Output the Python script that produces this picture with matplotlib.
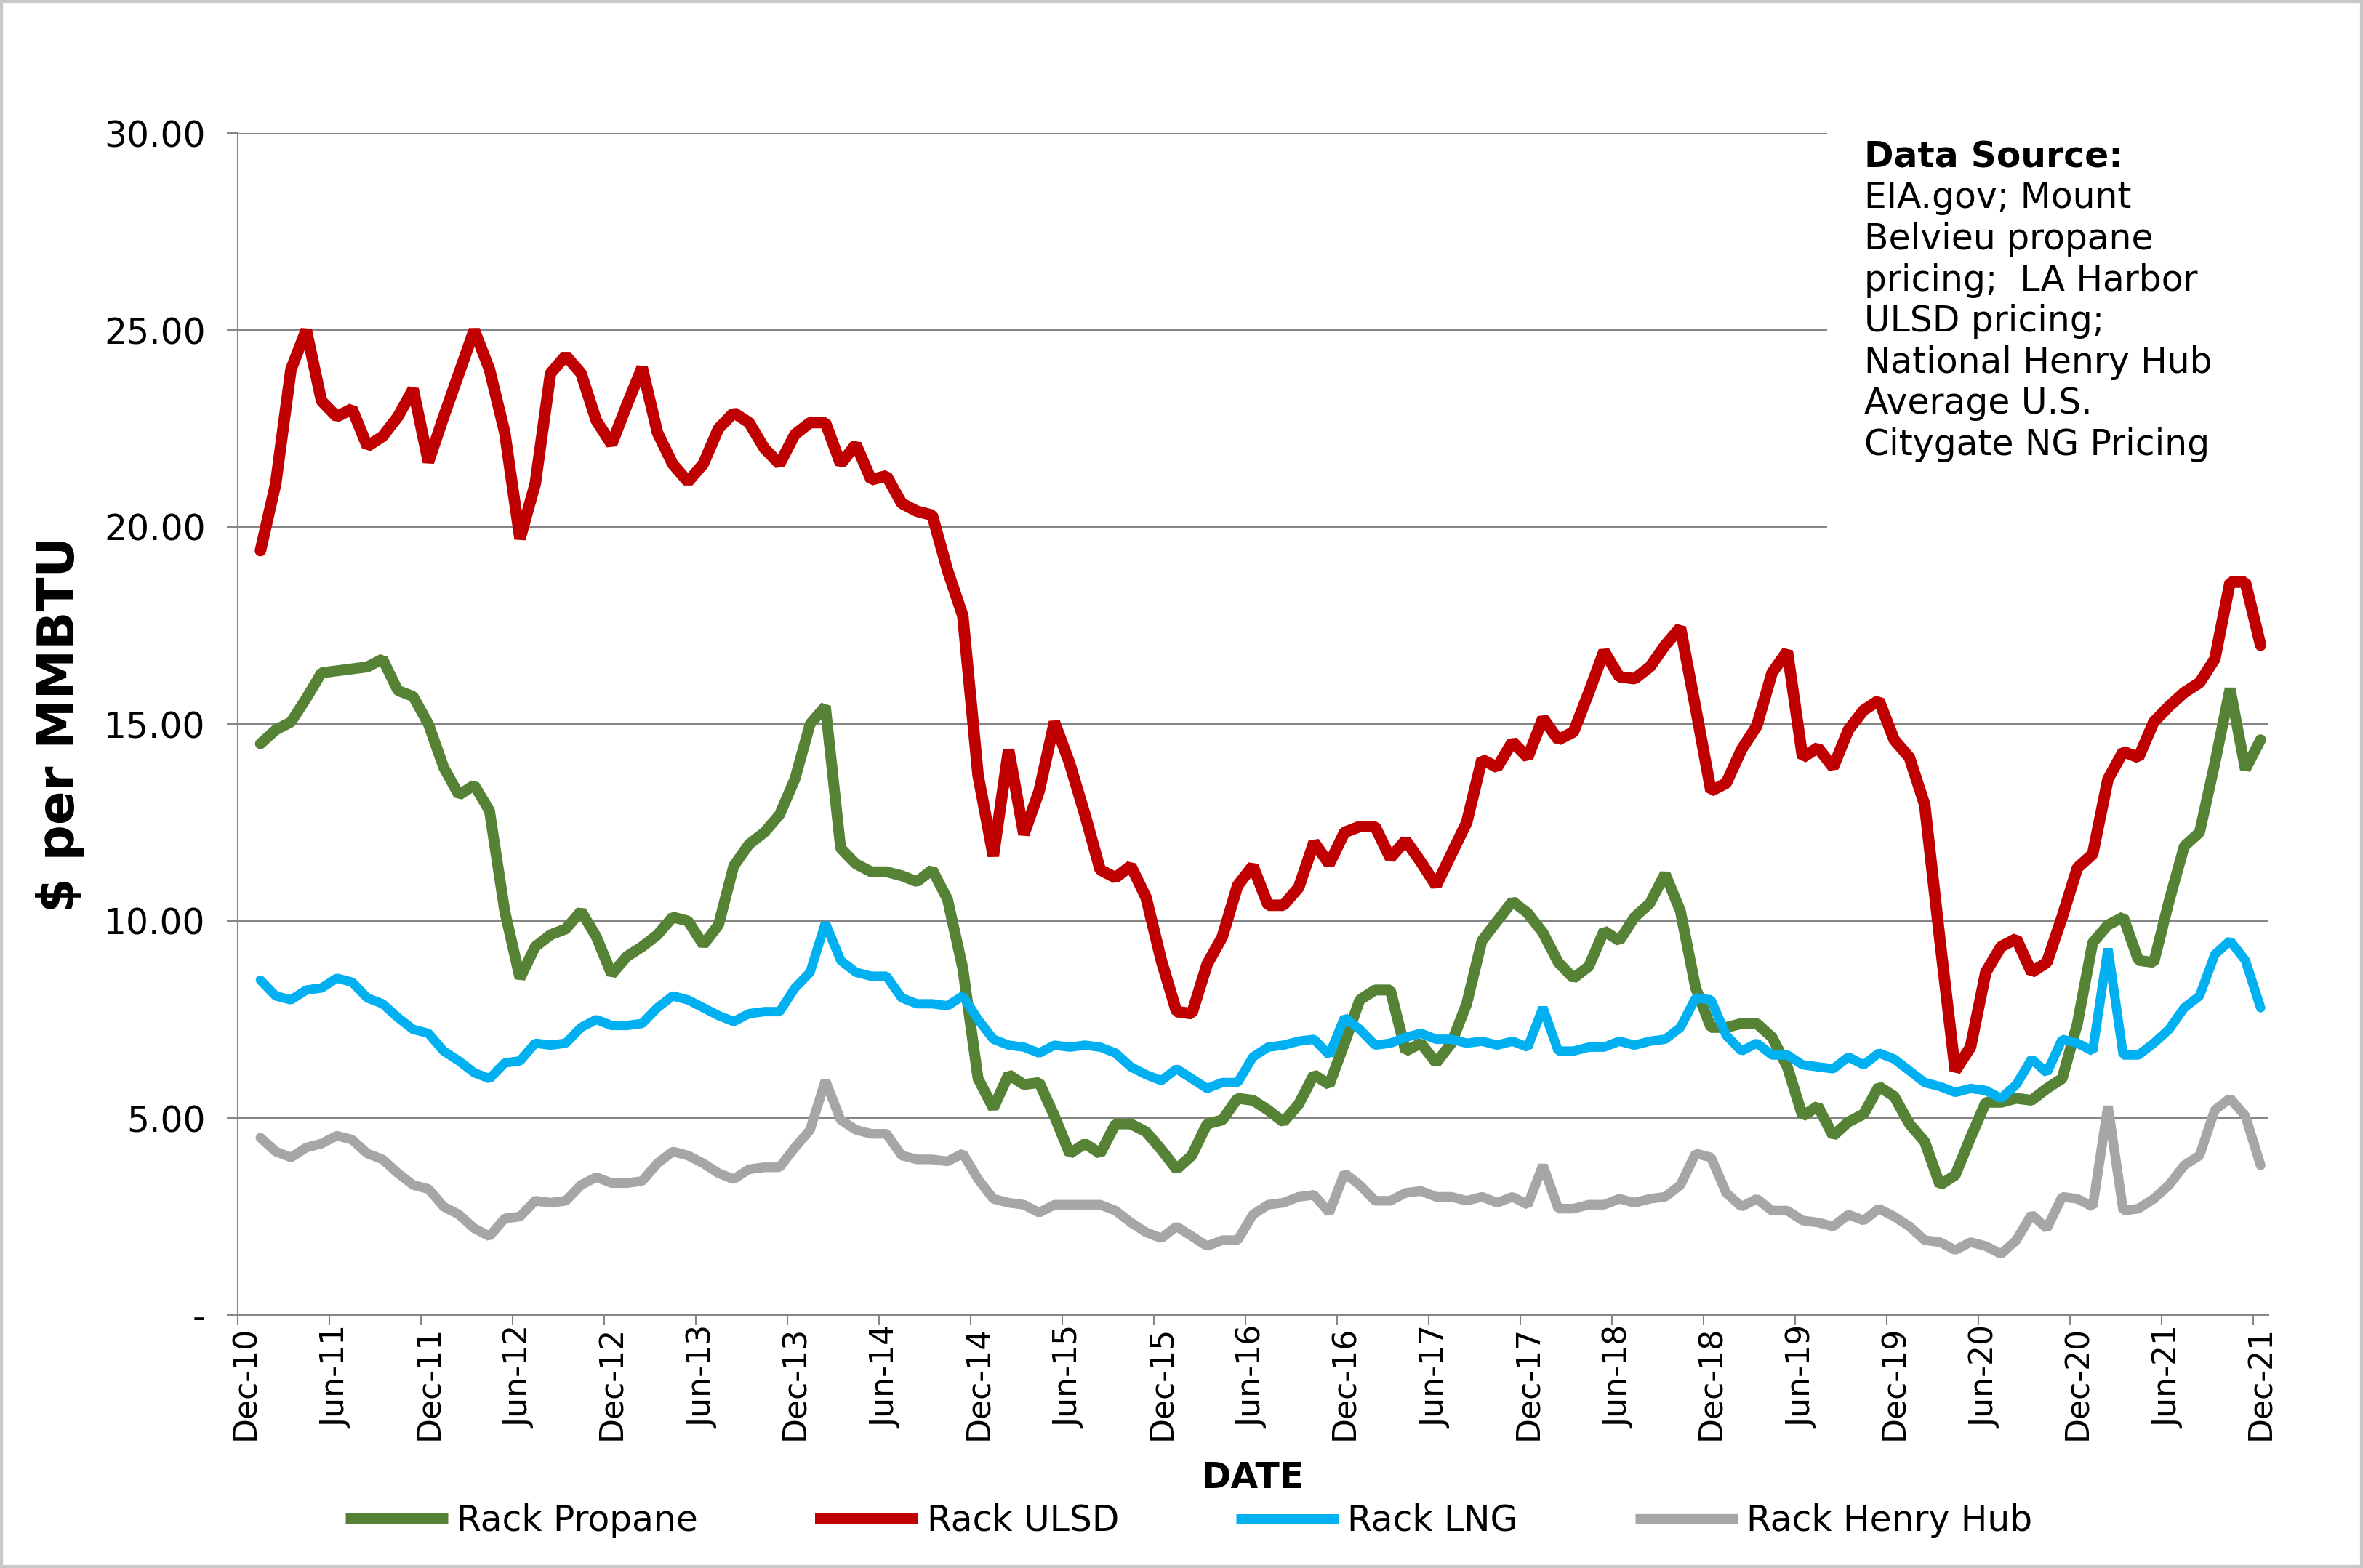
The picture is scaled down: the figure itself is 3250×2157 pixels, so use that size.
import numpy as np
import matplotlib
matplotlib.use("Agg")
import matplotlib.pyplot as plt
from matplotlib.patches import Rectangle
from matplotlib.lines import Line2D
from matplotlib.ticker import FixedLocator, FixedFormatter

# ---------------- data (monthly, Jan-11 .. Dec-21) ----------------
tick_labels = ["Dec-10", "Jun-11", "Dec-11", "Jun-12", "Dec-12", "Jun-13", "Dec-13",
               "Jun-14", "Dec-14", "Jun-15", "Dec-15", "Jun-16", "Dec-16", "Jun-17",
               "Dec-17", "Jun-18", "Dec-18", "Jun-19", "Dec-19", "Jun-20", "Dec-20",
               "Jun-21", "Dec-21"]

propane = [14.5, 14.85, 15.05, 15.65, 16.3, 16.35, 16.4, 16.45, 16.65, 15.85,
           15.7, 15.0, 13.9, 13.2, 13.45, 12.8, 10.25, 8.55, 9.35, 9.65,
           9.8, 10.25, 9.6, 8.65, 9.1, 9.35, 9.65, 10.1, 10.0, 9.4,
           9.9, 11.4, 11.95, 12.25, 12.7, 13.6, 15.0, 15.45, 11.85, 11.45,
           11.25, 11.25, 11.15, 11.0, 11.3, 10.55, 8.8, 6.0, 5.25, 6.1,
           5.85, 5.9, 5.05, 4.1, 4.35, 4.1, 4.85, 4.85, 4.65, 4.2,
           3.7, 4.05, 4.85, 4.95, 5.5, 5.45, 5.2, 4.9, 5.35, 6.1,
           5.85, 6.9, 8.0, 8.25, 8.25, 6.7, 6.9, 6.4, 6.9, 7.9,
           9.5, 10.0, 10.5, 10.2, 9.7, 8.95, 8.55, 8.85, 9.75, 9.5,
           10.1, 10.45, 11.2, 10.25, 8.3, 7.3, 7.3, 7.4, 7.4, 7.05,
           6.3, 5.05, 5.3, 4.55, 4.9, 5.1, 5.8, 5.55, 4.85, 4.4,
           3.3, 3.55, 4.5, 5.4, 5.4, 5.5, 5.45, 5.75, 6.0, 7.4,
           9.45, 9.9, 10.1, 9.0, 8.95, 10.5, 11.9, 12.25, 14.0, 15.9,
           13.85, 14.6]

ulsd = [19.4, 21.1, 24.0, 25.0, 23.2, 22.8, 23.0, 22.05, 22.3, 22.8,
        23.5, 21.65, 22.8, 23.9, 25.0, 24.0, 22.4, 19.7, 21.1, 23.9,
        24.35, 23.9, 22.7, 22.1, 23.1, 24.05, 22.4, 21.6, 21.15, 21.6,
        22.5, 22.9, 22.65, 22.0, 21.6, 22.35, 22.65, 22.65, 21.6, 22.1,
        21.2, 21.3, 20.6, 20.4, 20.3, 18.9, 17.75, 13.7, 11.65, 14.35,
        12.2, 13.3, 15.05, 14.0, 12.7, 11.3, 11.1, 11.4, 10.6, 9.0,
        7.7, 7.65, 8.9, 9.6, 10.9, 11.4, 10.4, 10.4, 10.85, 12.0,
        11.45, 12.25, 12.4, 12.4, 11.6, 12.05, 11.5, 10.9, 11.7, 12.5,
        14.1, 13.9, 14.55, 14.15, 15.15, 14.6, 14.8, 15.8, 16.85, 16.2,
        16.15, 16.45, 17.0, 17.45, 15.4, 13.3, 13.5, 14.35, 14.95, 16.3,
        16.85, 14.15, 14.4, 13.9, 14.85, 15.35, 15.6, 14.6, 14.15, 12.95,
        9.5, 6.2, 6.8, 8.7, 9.35, 9.55, 8.7, 8.95, 10.1, 11.35,
        11.7, 13.6, 14.3, 14.15, 15.05, 15.45, 15.8, 16.05, 16.65, 18.6,
        18.6, 17.0]

lng = [8.5, 8.1, 8.0, 8.25, 8.3, 8.55, 8.45, 8.05, 7.9, 7.55,
       7.25, 7.15, 6.7, 6.45, 6.15, 6.0, 6.4, 6.45, 6.9, 6.85,
       6.9, 7.3, 7.5, 7.35, 7.35, 7.4, 7.8, 8.1, 8.0, 7.8,
       7.6, 7.45, 7.65, 7.7, 7.7, 8.3, 8.7, 9.95, 9.0, 8.7,
       8.6, 8.6, 8.05, 7.9, 7.9, 7.85, 8.1, 7.5, 7.0, 6.85,
       6.8, 6.65, 6.85, 6.8, 6.85, 6.8, 6.65, 6.3, 6.1, 5.95,
       6.25, 6.0, 5.75, 5.9, 5.9, 6.55, 6.8, 6.85, 6.95, 7.0,
       6.6, 7.55, 7.25, 6.85, 6.9, 7.05, 7.15, 7.0, 7.0, 6.9,
       6.95, 6.85, 6.95, 6.8, 7.8, 6.7, 6.7, 6.8, 6.8, 6.95,
       6.85, 6.95, 7.0, 7.3, 8.05, 8.0, 7.1, 6.7, 6.9, 6.6,
       6.6, 6.35, 6.3, 6.25, 6.55, 6.35, 6.65, 6.5, 6.2, 5.9,
       5.8, 5.65, 5.75, 5.7, 5.5, 5.85, 6.5, 6.15, 7.0, 6.9,
       6.7, 9.3, 6.6, 6.6, 6.9, 7.25, 7.8, 8.1, 9.15, 9.5,
       9.0, 7.8]

henry_hub = [4.5, 4.15, 4.0, 4.25, 4.35, 4.55, 4.45, 4.1, 3.95, 3.6,
             3.3, 3.2, 2.75, 2.55, 2.2, 2.0, 2.45, 2.5, 2.9, 2.85,
             2.9, 3.3, 3.5, 3.35, 3.35, 3.4, 3.85, 4.15, 4.05, 3.85,
             3.6, 3.45, 3.7, 3.75, 3.75, 4.25, 4.7, 5.95, 4.95, 4.7,
             4.6, 4.6, 4.05, 3.95, 3.95, 3.9, 4.1, 3.45, 2.95, 2.85,
             2.8, 2.6, 2.8, 2.8, 2.8, 2.8, 2.65, 2.35, 2.1, 1.95,
             2.25, 2.0, 1.75, 1.9, 1.9, 2.55, 2.8, 2.85, 3.0, 3.05,
             2.6, 3.6, 3.3, 2.9, 2.9, 3.1, 3.15, 3.0, 3.0, 2.9,
             3.0, 2.85, 3.0, 2.8, 3.8, 2.7, 2.7, 2.8, 2.8, 2.95,
             2.85, 2.95, 3.0, 3.3, 4.1, 4.0, 3.1, 2.75, 2.95, 2.65,
             2.65, 2.4, 2.35, 2.25, 2.55, 2.4, 2.7, 2.5, 2.25, 1.9,
             1.85, 1.65, 1.85, 1.75, 1.55, 1.9, 2.55, 2.2, 3.0, 2.95,
             2.75, 5.3, 2.65, 2.7, 2.95, 3.3, 3.8, 4.05, 5.2, 5.5,
             5.05, 3.8]

series_names = ["Rack Propane", "Rack ULSD", "Rack LNG", "Rack Henry Hub"]
y_ticks = [0, 5, 10, 15, 20, 25, 30]
y_tick_labels = ["-", "5.00", "10.00", "15.00", "20.00", "25.00", "30.00"]
source_lines = ["EIA.gov; Mount", "Belvieu propane", "pricing;  LA Harbor",
                "ULSD pricing;", "National Henry Hub", "Average U.S.",
                "Citygate NG Pricing"]

# ---------------- styling ----------------
W, H, DPI = 3250, 2157, 300
plt.rcParams['font.family'] = ['DejaVu Sans']
FS = 11.7
XFS = 10.6
GRID = '#868686'
colors = ['#558235', '#C00000', '#00B0F0', '#A6A6A6']
widths = [3.6, 3.8, 3.1, 3.2]

def fx(px):
    return px / W

def fy(py):
    return 1 - py / H

fig = plt.figure(figsize=(W / DPI, H / DPI), dpi=DPI)
fig.patch.set_facecolor('white')

x_left, x_right, y_top, y_bot = 326.7, 3119.7, 183.0, 1809.0
ax = fig.add_axes([fx(x_left), fy(y_bot), fx(x_right) - fx(x_left), fy(y_top) - fy(y_bot)])

month_index = np.arange(1, len(ulsd) + 1)
all_series = [propane, ulsd, lng, henry_hub]
for vals, c, lw in zip(all_series, colors, widths):
    ax.plot(month_index, vals, color=c, lw=lw, solid_joinstyle='bevel',
            solid_capstyle='round', zorder=3)

ax.set_xlim(-0.5, 132.5)
ax.set_ylim(0, 30)

# y axis
ax.yaxis.set_major_locator(FixedLocator(y_ticks))
ax.yaxis.set_major_formatter(FixedFormatter(y_tick_labels))
ax.tick_params(axis='y', which='major', length=3.6, width=0.5, color=GRID,
               pad=7.0, labelsize=FS, labelcolor='black')
ax.grid(axis='y', color=GRID, lw=0.5, zorder=0.5)
ax.set_axisbelow(True)

# x axis: labels at month centres, tick marks at month boundaries
label_pos = [6 * i for i in range(len(tick_labels))]
ax.xaxis.set_major_locator(FixedLocator(label_pos))
ax.xaxis.set_major_formatter(FixedFormatter(tick_labels))
ax.xaxis.set_minor_locator(FixedLocator([p - 0.5 for p in label_pos]))
ax.tick_params(axis='x', which='major', length=0, pad=3.6, labelsize=XFS,
               labelrotation=90, labelcolor='black')
ax.tick_params(axis='x', which='minor', length=3.4, width=0.5, color=GRID)

for s in ['top', 'right']:
    ax.spines[s].set_visible(False)
for s in ['left', 'bottom']:
    ax.spines[s].set_color(GRID)
    ax.spines[s].set_linewidth(0.5)

# white text box hiding gridlines (upper right)
ax.add_patch(Rectangle((fx(2513), fy(760)), fx(3135) - fx(2513), fy(165) - fy(760),
                       transform=fig.transFigure, facecolor='white', edgecolor='none',
                       zorder=1.5, clip_on=False))

# data source text
base0 = 230.0
step = 56.5
tx = 2564
fig.text(fx(tx), fy(base0), "Data Source:", fontsize=FS, fontweight='bold',
         ha='left', va='baseline')
for i, line in enumerate(source_lines):
    fig.text(fx(tx), fy(base0 + (i + 1) * step), line, fontsize=FS,
             ha='left', va='baseline')

# axis titles
fig.text(fx(83), fy(996), "$ per MMBTU", rotation=90, fontsize=16.5,
         fontweight='bold', ha='center', va='center')
fig.text(fx(1723), fy(2033), "DATE", fontsize=FS, fontweight='bold',
         ha='center', va='center')

# legend
handles = [Line2D([0], [0], color=c, lw=lw, solid_capstyle='butt')
           for c, lw in zip(colors, widths)]
fig.legend(handles, series_names, loc='center', bbox_to_anchor=(fx(1635), fy(2092)),
           ncol=4, frameon=False, fontsize=FS, handlelength=2.9,
           handletextpad=0.25, columnspacing=3.3)

# chart border
fig.patches.append(Rectangle((0.0005, 0.0007), 0.999, 0.9986, transform=fig.transFigure,
                             fill=False, edgecolor='#C8C8C8', lw=1.0, zorder=10))

fig.savefig('out.png', dpi=DPI, facecolor='white')
